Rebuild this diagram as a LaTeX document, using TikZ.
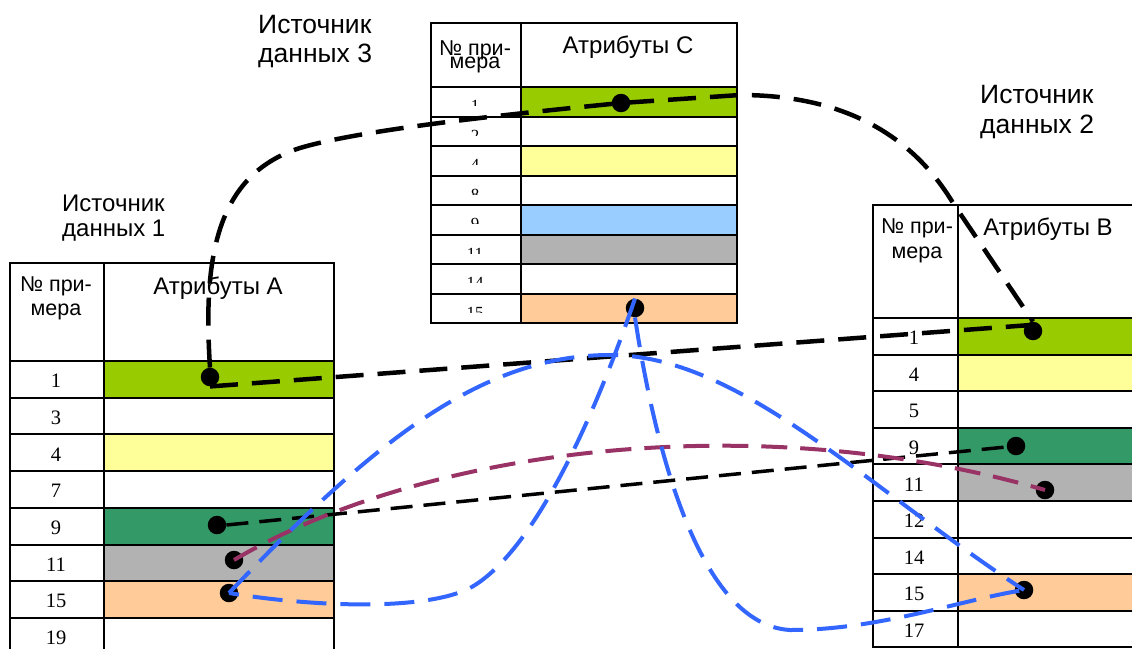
\documentclass[tikz,border=0pt]{standalone}
\usepackage{fontspec}
\setmainfont{Liberation Sans}
\newfontfamily\numfont{Liberation Serif}
\usetikzlibrary{calc}

\definecolor{lime}{HTML}{99CC00}
\definecolor{lemon}{HTML}{FFFF99}
\definecolor{seagrn}{HTML}{339966}
\definecolor{ashgray}{HTML}{B2B2B2}
\definecolor{peach}{HTML}{FFCC99}
\definecolor{skyblue}{HTML}{99CCFF}
\definecolor{linkblue}{HTML}{3366FF}
\definecolor{linkpurple}{HTML}{993366}

\tikzset{
  cellbox/.style={draw=black, line width=2pt, inner sep=0pt, anchor=north west},
  numtxt/.style={font=\numfont\fontsize{20.5}{24}\selectfont, anchor=base, inner sep=0pt},
  numtxtsmall/.style={font=\numfont\fontsize{17}{20}\selectfont, anchor=base, inner sep=0pt},
  hdrnum/.style={align=center, anchor=base, inner sep=0pt},
  hdrattr/.style={font=\fontsize{24}{28}\selectfont, anchor=base, inner sep=0pt},
  srclabel/.style={align=left, anchor=base west, inner sep=0pt},
  dot/.style={circle, fill=black, inner sep=0pt, minimum size=18.5pt},
  linkthick/.style={draw=black, line width=4.5pt, dash pattern=on 28pt off 14pt},
  linkthin/.style={draw=black, line width=3.5pt, dash pattern=on 22pt off 11pt},
  linkpur/.style={draw=linkpurple, line width=4pt, dash pattern=on 26pt off 13pt},
  linkblu/.style={draw=linkblue, line width=4pt, dash pattern=on 30pt off 14pt},
}

\begin{document}
\begin{tikzpicture}[x=1pt,y=-1pt]
\useasboundingbox (0,0) rectangle (1132,648);
\fill[white] (0,0) rectangle (1132,648);
\clip (0,0) rectangle (1132,648);

% ---------- source 1: table A ----------
\node[cellbox, minimum width=94pt, minimum height=98pt] (A-h1) at (9,262) {};
\node[cellbox, minimum width=230pt, minimum height=98pt] (A-h2) at (103,262) {};
\node[hdrnum, font=\fontsize{21.5}{24}\selectfont] (A-hn) at (56,315) {№ при-\\мера};
\node[hdrattr] (A-ha) at (218,294) {Атрибуты А};
\foreach \i/\n/\c in {0/1/lime,1/3/white,2/4/lemon,3/7/white,4/9/seagrn,5/11/ashgray,6/15/peach,7/19/white}{
  \pgfmathsetmacro\yt{360+36.7*\i}
  \pgfmathsetmacro\yb{\yt+36.7}
  \node[cellbox, minimum width=94pt, minimum height=36.7pt] (A-k\n) at (9,\yt) {};
  \node[cellbox, fill=\c, minimum width=230pt, minimum height=36.7pt] (A-v\n) at (103,\yt) {};
  \node[numtxt] (A-t\n) at (56,\yb-9) {\n};
}

% ---------- source 2: table B ----------
\node[cellbox, minimum width=85pt, minimum height=113pt] (B-h1) at (872,204) {};
\node[cellbox, minimum width=183pt, minimum height=113pt] (B-h2) at (957,204) {};
\node[hdrnum, font=\fontsize{21.5}{25}\selectfont] (B-hn) at (917,258) {№ при-\\мера};
\node[hdrattr] (B-ha) at (1048,235) {Атрибуты В};
\foreach \i/\n/\c in {0/1/lime,1/4/lemon,2/5/white,3/9/seagrn,4/11/ashgray,5/12/white,6/14/white,7/15/peach,8/17/white}{
  \pgfmathsetmacro\yt{317+36.6*\i}
  \pgfmathsetmacro\yb{\yt+36.6}
  \node[cellbox, minimum width=85pt, minimum height=36.6pt] (B-k\n) at (872,\yt) {};
  \node[cellbox, fill=\c, minimum width=183pt, minimum height=36.6pt] (B-v\n) at (957,\yt) {};
  \node[numtxt] (B-t\n) at (914,\yb-9) {\n};
}

% ---------- source 3: table C (cramped header, clipped row numbers) ----------
\node[cellbox, minimum width=90pt, minimum height=64pt] (C-h1) at (430,22) {};
\node[cellbox, minimum width=216pt, minimum height=64pt] (C-h2) at (520,22) {};
\node[hdrnum, font=\fontsize{21.5}{24}\selectfont] (C-hn) at (475,68) {№ при-\\[-11pt]мера};
\node[hdrattr] (C-ha) at (628,53) {Атрибуты С};
\foreach \i/\n/\c in {0/1/lime,1/2/white,2/4/lemon,3/8/white,4/9/skyblue,5/11/ashgray,6/14/white,7/15/peach}{
  \pgfmathsetmacro\yt{86+29.5*\i}
  \pgfmathsetmacro\yb{\yt+29.5}
  \node[cellbox, minimum width=90pt, minimum height=29.5pt] (C-k\n) at (430,\yt) {};
  \node[cellbox, fill=\c, minimum width=216pt, minimum height=29.5pt] (C-v\n) at (520,\yt) {};
  \begin{scope}
    \clip (431,\yt) rectangle (519,\yb-10);
    \node[numtxtsmall] (C-t\n) at (475,\yb-4) {\n};
  \end{scope}
}

% ---------- source labels ----------
\node[srclabel, font=\fontsize{26.5}{29}\selectfont] (lab3) at (258,62) {Источник\\данных 3};
\node[srclabel, font=\fontsize{26.5}{30}\selectfont] (lab2) at (980,133) {Источник\\данных 2};
\node[srclabel, font=\fontsize{24}{25}\selectfont] (lab1) at (62,236) {Источник\\данных 1};

% ---------- record markers ----------
\node[dot] (dA1) at (210,377) {};
\node[dot] (dA9) at (217,525) {};
\node[dot] (dA11) at (234,560) {};
\node[dot] (dA15) at (229,593) {};
\node[dot] (dC1) at (621,103) {};
\node[dot] (dC15) at (635,308) {};
\node[dot] (dB1) at (1033,331) {};
\node[dot] (dB9) at (1016,446) {};
\node[dot] (dB11) at (1045,490) {};
\node[dot] (dB15) at (1024,590) {};

% ---------- links between matching records ----------
% record 1: sources 1, 3 and 2
\draw[linkthick] (dA1.north) .. controls (203,260) and (215,175) .. (300,148)
  .. controls (360,130) and (500,115) .. (dC1.center) -- (740,95)
  .. controls (850,95) and (915,140) .. (953,203) -- (dB1.north);
\draw[linkthick] (dA1.south) -- (dB1.north east);
% record 9: sources 1 and 2
\draw[linkthin] (dA9.east) -- (dB9.center);
% record 11: sources 1 and 2
\draw[linkpur] (dA11.center) .. controls (420,450) and (750,405) .. (dB11.center);
% record 15: sources 1, 3 and 2
\draw[linkblu] (dA15.center) .. controls (370,445) and (480,355) .. (610,355)
  .. controls (740,355) and (870,490) .. (dB15.center);
\draw[linkblu] (dC15.north) .. controls (590,430) and (530,555) .. (470,588)
  .. controls (420,613) and (300,605) .. (dA15.center);
\draw[linkblu] (dC15.south) .. controls (655,450) and (700,625) .. (790,630)
  .. controls (880,630) and (960,600) .. (dB15.center);
\end{tikzpicture}
\end{document}
